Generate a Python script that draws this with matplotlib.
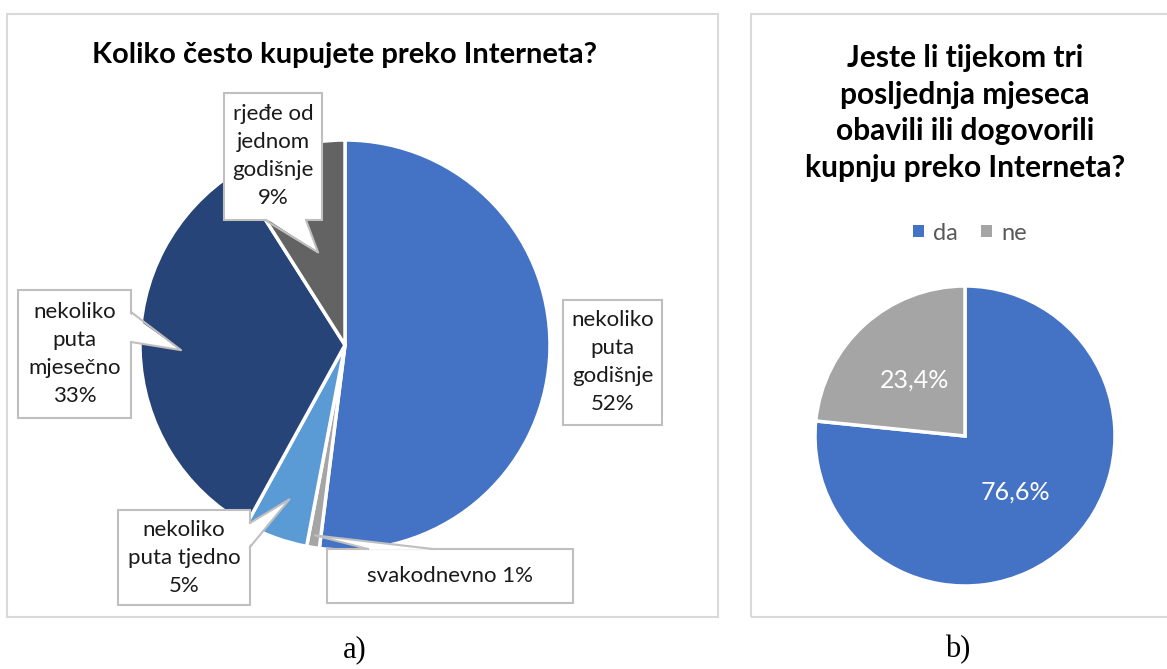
import numpy as np
import matplotlib.pyplot as plt
from matplotlib.patches import Rectangle, Polygon

# Datos del grafico a)
kategorije = ['nekoliko\nputa\ngodišnje', 'svakodnevno', 'nekoliko\nputa tjedno',
              'nekoliko\nputa\nmjesečno', 'rjeđe od\njednom\ngodišnje']
udjeli = [52, 1, 5, 33, 9]
boje_a = ['#4472C4', '#A5A5A5', '#5B9BD5', '#264478', '#636363']

# Datos del grafico b)
odgovori = ['da', 'ne']
postotci = [76.6, 23.4]
boje_b = ['#4472C4', '#A5A5A5']

W, H = 1167, 669
fig = plt.figure(figsize=(W / 100, H / 100), dpi=100)
ax = fig.add_axes([0, 0, 1, 1])
ax.set_xlim(0, W)
ax.set_ylim(0, H)
ax.set_aspect('equal')
ax.axis('off')

def Y(y):
    # coordenadas de pixel con y hacia abajo
    return H - y

# Marcos de los paneles
ax.add_patch(Rectangle((7, Y(617)), 711, 603, fill=False, ec='#d9d9d9', lw=1.5))
ax.add_patch(Rectangle((751, Y(617)), 430, 603, fill=False, ec='#d9d9d9', lw=1.5))

# ---- Panel a) ----
ca = (345, Y(345))
ra = 205
wedges_a, _ = ax.pie(udjeli, colors=boje_a, startangle=90, counterclock=False,
                     center=ca, radius=ra, frame=True,
                     wedgeprops=dict(edgecolor='white', linewidth=2.5))
ax.set_xlim(0, W)
ax.set_ylim(0, H)
ax.axis('off')

ax.text(345, Y(55), 'Koliko često kupujete preko Interneta?', ha='center', va='center',
        fontsize=21, fontweight='bold', family='Lato', color='black')

# cajas de las etiquetas: (x0, y0, x1, y1), base del puntero, fraccion del radio
kutije = [
    ((563, 300, 662, 425), None, None),
    ((327, 549, 573, 603), [(368, 549), (433, 549)], 0.94),
    ((118, 510, 250, 605), [(250, 523), (250, 547)], 0.8),
    ((18, 290, 131, 418), [(131, 312), (131, 342)], 0.8),
    ((224, 93, 322, 220), [(265, 220), (306, 220)], 0.47),
]

gc = '#bfbfbf'
for w, kat, p, (box, baza, frac) in zip(wedges_a, kategorije, udjeli, kutije):
    x0, y0, x1, y1 = box
    ax.add_patch(Rectangle((x0, Y(y1)), x1 - x0, y1 - y0, fc='white', ec=gc, lw=1.5, zorder=5))
    if baza is not None:
        ang = np.deg2rad((w.theta1 + w.theta2) / 2)
        tx = ca[0] + frac * ra * np.cos(ang)
        ty = ca[1] + frac * ra * np.sin(ang)
        b1 = (baza[0][0], Y(baza[0][1]))
        b2 = (baza[1][0], Y(baza[1][1]))
        # meter un poco la base dentro de la caja
        cx, cy = (x0 + x1) / 2, Y((y0 + y1) / 2)
        def dentro(b):
            return (b[0] + 0.03 * (cx - b[0]), b[1] + 0.03 * (cy - b[1]))
        ax.add_patch(Polygon([dentro(b1), (tx, ty), dentro(b2)], closed=True,
                             fc='white', ec='none', zorder=6))
        ax.plot([b1[0], tx, b2[0]], [b1[1], ty, b2[1]], color=gc, lw=1.5, zorder=6)
    if kat == 'svakodnevno':
        txt = f'{kat} {p}%'
    else:
        txt = f'{kat}\n{p}%'
    ax.text((x0 + x1) / 2, Y((y0 + y1) / 2), txt, ha='center', va='center',
            fontsize=16, family='Lato', color='#1a1a1a', linespacing=1.5, zorder=7)

ax.text(355, Y(650), 'a)', ha='center', va='center', fontsize=22,
        family='Liberation Serif', color='black')

# ---- Panel b) ----
cb = (965, Y(436))
rb = 150
wedges_b, _, autotexts = ax.pie(postotci, colors=boje_b, startangle=90, counterclock=False,
                                center=cb, radius=rb, frame=True,
                                autopct=lambda v: f'{v:.1f}%'.replace('.', ','),
                                pctdistance=0.5,
                                wedgeprops=dict(edgecolor='white', linewidth=2.5),
                                textprops=dict(color='white', fontsize=18, family='Lato'))
ax.set_xlim(0, W)
ax.set_ylim(0, H)
ax.axis('off')

ax.text(965, Y(113), 'Jeste li tijekom tri\nposljednja mjeseca\nobavili ili dogovorili\nkupnju preko Interneta?',
        ha='center', va='center', fontsize=21.5, fontweight='bold', family='Lato',
        color='black', linespacing=1.38)

leg = ax.legend(wedges_b, odgovori, loc='center', bbox_to_anchor=(970 / W, 1 - 233 / H),
                ncol=2, frameon=False, handlelength=0.45, handleheight=0.45,
                handletextpad=0.4, columnspacing=1.0,
                prop=dict(family='Lato', size=17))
for t in leg.get_texts():
    t.set_color('#595959')
for h in leg.legend_handles:
    h.set_edgecolor('none')

ax.text(958, Y(650), 'b)', ha='center', va='center', fontsize=22,
        family='Liberation Serif', color='black')

fig.savefig('out.png', dpi=100, facecolor='white')
